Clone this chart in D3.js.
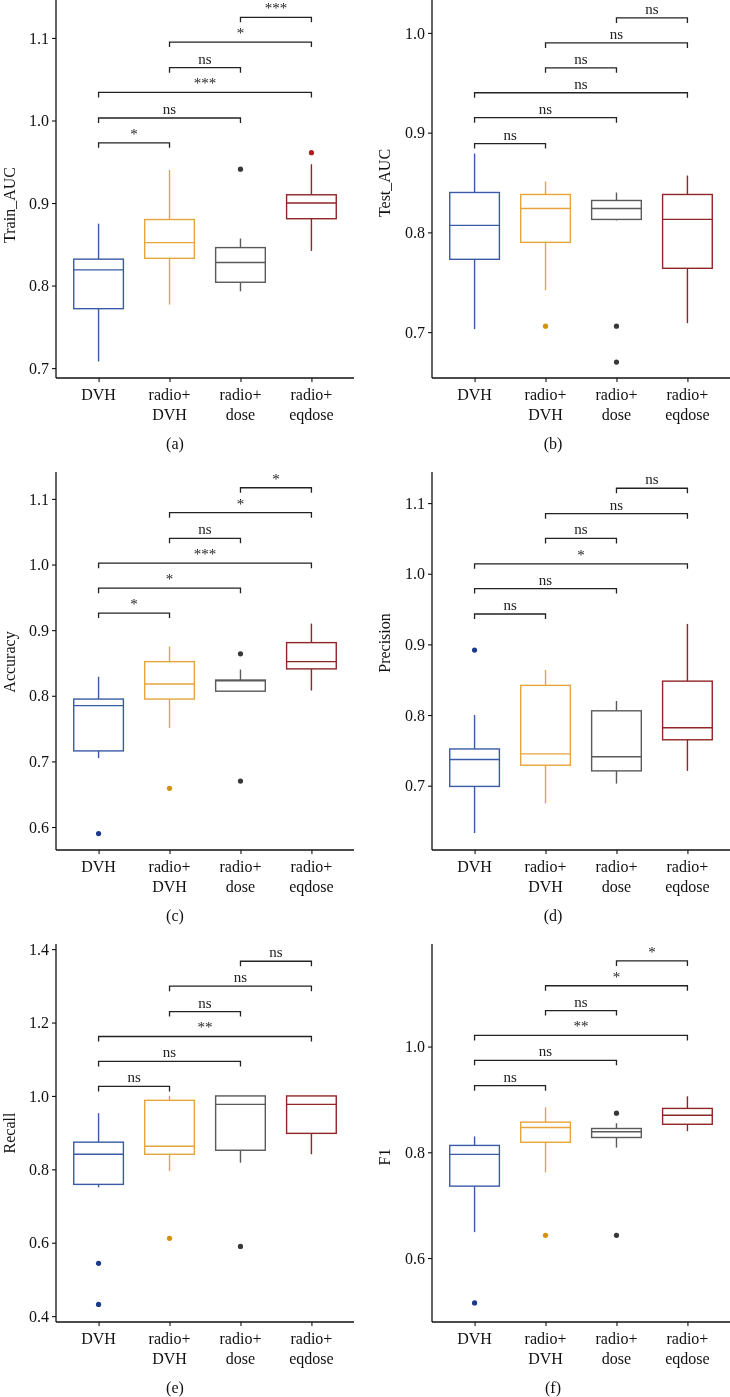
<!DOCTYPE html>
<html>
<head>
<meta charset="utf-8">
<script src="https://cdn.jsdelivr.net/npm/d3@7"></script>
<style>
  body { margin: 0; background: #fff; }
  svg { display: block; will-change: transform; }
  svg text { font-family: "Liberation Serif", "Times New Roman", serif; }
</style>
</head>
<body>
<div id="chart"></div>
<script>
// Categories and labels
const categories = ["DVH", "radio+DVH", "radio+dose", "radio+eqdose"];
const metrics = ["Train_AUC", "Test_AUC", "Accuracy", "Precision", "Recall", "F1"];
const panelTags = ["(a)", "(b)", "(c)", "(d)", "(e)", "(f)"];

// Box stats per category: [low whisker, q1, median, q3, high whisker]
const trainAUC = [[0.708, 0.772, 0.819, 0.832, 0.875], [0.777, 0.833, 0.852, 0.880, 0.940], [0.793, 0.804, 0.828, 0.846, 0.857], [0.842, 0.881, 0.900, 0.910, 0.947]];
const testAUC = [[0.703, 0.773, 0.807, 0.840, 0.879], [0.742, 0.790, 0.824, 0.838, 0.851], [0.812, 0.813, 0.824, 0.832, 0.840], [0.709, 0.764, 0.813, 0.838, 0.857]];
const accuracy = [[0.705, 0.716, 0.785, 0.795, 0.829], [0.751, 0.795, 0.818, 0.852, 0.875], [0.807, 0.807, 0.823, 0.824, 0.840], [0.808, 0.841, 0.852, 0.881, 0.910]];
const precision = [[0.633, 0.699, 0.737, 0.752, 0.800], [0.675, 0.729, 0.745, 0.842, 0.864], [0.703, 0.721, 0.741, 0.806, 0.820], [0.721, 0.765, 0.782, 0.848, 0.929]];
const recall = [[0.751, 0.759, 0.841, 0.874, 0.953], [0.795, 0.841, 0.863, 0.988, 1.0], [0.818, 0.852, 0.977, 1.0, 1.0], [0.841, 0.898, 0.977, 1.0, 1.0]];
const f1 = [[0.649, 0.736, 0.796, 0.813, 0.830], [0.762, 0.819, 0.847, 0.857, 0.885], [0.809, 0.828, 0.839, 0.845, 0.855], [0.840, 0.853, 0.870, 0.883, 0.906]];

// Outliers per category
const trainAUCOut = [[], [], [0.941], [0.961]];
const testAUCOut = [[], [0.706], [0.706, 0.670], []];
const accuracyOut = [[0.590], [0.659], [0.864, 0.670], []];
const precisionOut = [[0.892], [], [], []];
const recallOut = [[0.544, 0.432], [0.612], [0.590], []];
const f1Out = [[0.515], [0.643], [0.874, 0.643], []];

// Pairwise comparisons (same order in every panel)
const pairs = [[0, 1], [0, 2], [0, 3], [1, 2], [1, 3], [2, 3]];
const trainAUCSig = ["*", "ns", "***", "ns", "*", "***"];
const testAUCSig = ["ns", "ns", "ns", "ns", "ns", "ns"];
const accuracySig = ["*", "*", "***", "ns", "*", "*"];
const precisionSig = ["ns", "ns", "*", "ns", "ns", "ns"];
const recallSig = ["ns", "ns", "**", "ns", "ns", "ns"];
const f1Sig = ["ns", "ns", "**", "ns", "*", "*"];

// Bracket heights
const trainAUCBr = [0.973, 1.003, 1.034, 1.064, 1.095, 1.125];
const testAUCBr = [0.889, 0.915, 0.940, 0.965, 0.990, 1.015];
const accuracyBr = [0.926, 0.964, 1.002, 1.040, 1.079, 1.117];
const precisionBr = [0.943, 0.979, 1.014, 1.050, 1.085, 1.121];
const recallBr = [1.026, 1.094, 1.162, 1.230, 1.299, 1.367];
const f1Br = [0.926, 0.974, 1.021, 1.068, 1.115, 1.162];

// Y axis ticks and domains
const trainAUCTicks = [0.7, 0.8, 0.9, 1.0, 1.1];
const testAUCTicks = [0.7, 0.8, 0.9, 1.0];
const accuracyTicks = [0.6, 0.7, 0.8, 0.9, 1.0, 1.1];
const precisionTicks = [0.7, 0.8, 0.9, 1.0, 1.1];
const recallTicks = [0.4, 0.6, 0.8, 1.0, 1.2, 1.4];
const f1Ticks = [0.6, 0.8, 1.0];
const yDomains = [[0.688, 1.146], [0.654, 1.033], [0.565, 1.141], [0.609, 1.144], [0.384, 1.414], [0.479, 1.194]];

const boxColors = ["#3a5aa8", "#e6a53c", "#5a5a5a", "#8e2626"];
const dotColors = ["#1c3a8c", "#d4920e", "#383838", "#b01e1e"];

const panels = [
  { stats: trainAUC, out: trainAUCOut, sig: trainAUCSig, br: trainAUCBr, ticks: trainAUCTicks },
  { stats: testAUC, out: testAUCOut, sig: testAUCSig, br: testAUCBr, ticks: testAUCTicks },
  { stats: accuracy, out: accuracyOut, sig: accuracySig, br: accuracyBr, ticks: accuracyTicks },
  { stats: precision, out: precisionOut, sig: precisionSig, br: precisionBr, ticks: precisionTicks },
  { stats: recall, out: recallOut, sig: recallSig, br: recallBr, ticks: recallTicks },
  { stats: f1, out: f1Out, sig: f1Sig, br: f1Br, ticks: f1Ticks }
];

// Layout
const width = 730, height = 1397;
const serif = "Liberation Serif, Times New Roman, serif";
const colX = [56, 432];        // y-axis position per column
const plotW = 298;
const rowTop = [0, 472, 944];
const plotH = 378;
const titleOffset = [205, 183, 190, 171, 189, 213]; // y-title centre from panel top

const svg = d3.select("#chart").append("svg")
  .attr("width", width)
  .attr("height", height)
  .attr("font-family", serif);

panels.forEach((p, i) => {
  const col = i % 2, row = Math.floor(i / 2);
  const x0 = colX[col], y0 = rowTop[row];
  const g = svg.append("g").attr("transform", `translate(${x0},${y0})`);

  const x = d3.scalePoint().domain(categories).range([0, plotW]).padding(0.6);
  const y = d3.scaleLinear().domain(yDomains[i]).range([plotH, 0]);
  const bw = x.step() * 0.7;

  // Axes
  const yAxis = d3.axisLeft(y).tickValues(p.ticks).tickFormat(d3.format(".1f")).tickSize(4).tickPadding(3);
  const gy = g.append("g").call(yAxis).attr("font-family", serif);
  gy.select(".domain").attr("d", `M0,0V${plotH}`).attr("stroke", "#111").attr("stroke-width", 1.3);
  gy.selectAll(".tick line").attr("stroke", "#111").attr("stroke-width", 1.1);
  gy.selectAll(".tick text").attr("font-size", 16).attr("fill", "#111");

  const xAxis = d3.axisBottom(x).tickSize(4).tickFormat("");
  const gx = g.append("g").attr("transform", `translate(0,${plotH})`).call(xAxis);
  gx.select(".domain").attr("d", `M0,0H${plotW}`).attr("stroke", "#111").attr("stroke-width", 1.3);
  gx.selectAll(".tick line").attr("stroke", "#111").attr("stroke-width", 1.1);

  // Category labels (two lines)
  categories.forEach(c => {
    const cut = c.indexOf("+") + 1;
    const parts = cut > 0 ? [c.slice(0, cut), c.slice(cut)] : [c];
    const t = g.append("text")
      .attr("x", x(c))
      .attr("y", plotH + 22)
      .attr("text-anchor", "middle")
      .attr("font-size", 16)
      .attr("fill", "#111");
    parts.forEach((s, k) => {
      t.append("tspan").attr("x", x(c)).attr("dy", k === 0 ? 0 : 20).text(s);
    });
  });

  // Y title
  g.append("text")
    .attr("transform", `translate(${col === 0 ? -41 : -42},${titleOffset[i]}) rotate(-90)`)
    .attr("text-anchor", "middle")
    .attr("font-size", 16)
    .attr("fill", "#111")
    .text(metrics[i]);

  // Panel tag
  g.append("text")
    .attr("x", plotW / 2 - 30 + (col === 0 ? 0 : 2))
    .attr("y", plotH + 71)
    .attr("text-anchor", "middle")
    .attr("font-size", 16)
    .attr("fill", "#111")
    .text(panelTags[i]);

  // Boxes
  p.stats.forEach((s, k) => {
    const cx = x(categories[k]);
    const bg = g.append("g").attr("stroke", boxColors[k]).attr("stroke-width", 1.4).attr("fill", "none");
    bg.append("line").attr("x1", cx).attr("x2", cx).attr("y1", y(s[4])).attr("y2", y(s[3]));
    bg.append("line").attr("x1", cx).attr("x2", cx).attr("y1", y(s[1])).attr("y2", y(s[0]));
    bg.append("rect")
      .attr("x", cx - bw / 2).attr("width", bw)
      .attr("y", y(s[3])).attr("height", Math.max(0.5, y(s[1]) - y(s[3])))
      .attr("fill", "#fff");
    bg.append("line").attr("x1", cx - bw / 2).attr("x2", cx + bw / 2).attr("y1", y(s[2])).attr("y2", y(s[2]));

    p.out[k].forEach(v => {
      g.append("circle").attr("cx", cx).attr("cy", y(v)).attr("r", 2.6).attr("fill", dotColors[k]);
    });
  });

  // Significance brackets
  pairs.forEach((pr, k) => {
    const xa = x(categories[pr[0]]), xb = x(categories[pr[1]]), yy = y(p.br[k]);
    g.append("path")
      .attr("d", `M${xa},${yy + 5}V${yy}H${xb}V${yy + 5}`)
      .attr("fill", "none")
      .attr("stroke", "#222")
      .attr("stroke-width", 1.3);
    g.append("text")
      .attr("x", (xa + xb) / 2)
      .attr("y", yy - 4)
      .attr("text-anchor", "middle")
      .attr("font-size", 15)
      .attr("fill", "#222")
      .text(p.sig[k]);
  });
});
</script>
</body>
</html>
